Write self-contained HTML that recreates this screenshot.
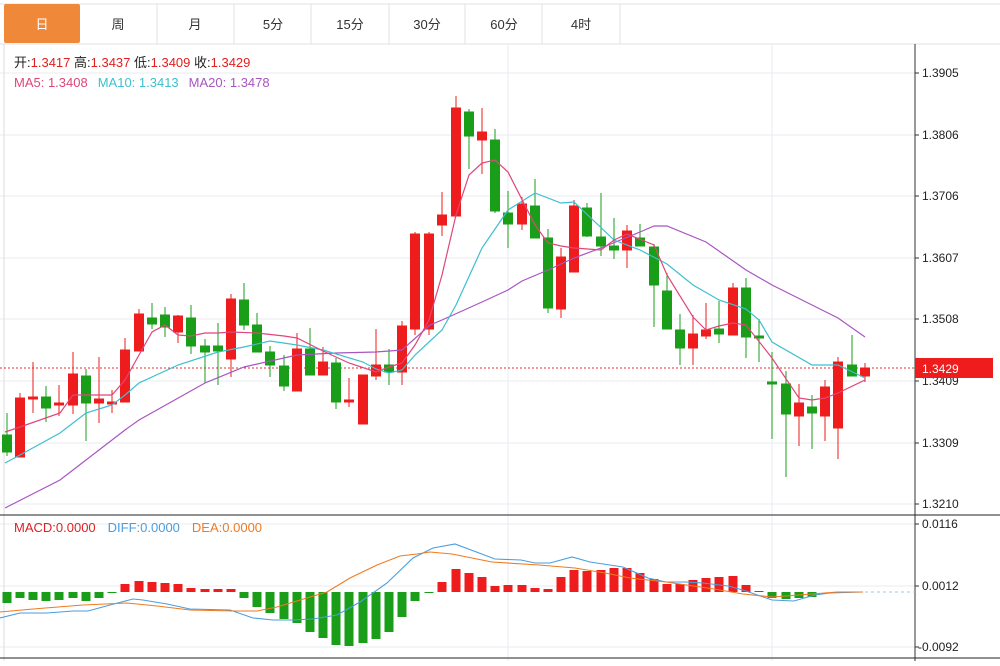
<!DOCTYPE html>
<html><head><meta charset="utf-8"><style>
body{margin:0;background:#fff;width:1000px;height:661px;overflow:hidden;font-family:"Liberation Sans","Noto Sans CJK SC",sans-serif}
</style></head><body>
<svg width="1000" height="661" xmlns="http://www.w3.org/2000/svg" font-family="Liberation Sans, Noto Sans CJK SC, sans-serif">
<rect x="0" y="0" width="1000" height="661" fill="#fff"/>
<line x1="0" y1="44" x2="1000" y2="44" stroke="#e2e2e2"/>
<line x1="0" y1="4" x2="1000" y2="4" stroke="#e2e2e2"/>
<rect x="4" y="4" width="76" height="39" fill="#f0883a" rx="2"/>
<g stroke="#e2e2e2"><line x1="157" y1="4" x2="157" y2="44"/><line x1="234" y1="4" x2="234" y2="44"/><line x1="311" y1="4" x2="311" y2="44"/><line x1="389" y1="4" x2="389" y2="44"/><line x1="465" y1="4" x2="465" y2="44"/><line x1="542" y1="4" x2="542" y2="44"/><line x1="620" y1="4" x2="620" y2="44"/></g>
<g font-size="13" fill="#333" text-anchor="middle"><text x="42" y="29" fill="#fff">日</text><text x="118" y="29">周</text><text x="195" y="29">月</text><text x="273" y="29">5分</text><text x="350" y="29">15分</text><text x="427" y="29">30分</text><text x="504" y="29">60分</text><text x="581" y="29">4时</text></g>
<g stroke="#e8ebf0"><line x1="0" y1="73" x2="915" y2="73"/><line x1="0" y1="135" x2="915" y2="135"/><line x1="0" y1="196" x2="915" y2="196"/><line x1="0" y1="258" x2="915" y2="258"/><line x1="0" y1="319" x2="915" y2="319"/><line x1="0" y1="381" x2="915" y2="381"/><line x1="0" y1="443" x2="915" y2="443"/><line x1="0" y1="504" x2="915" y2="504"/>
<line x1="508" y1="44" x2="508" y2="661"/><line x1="772" y1="44" x2="772" y2="661"/>
<line x1="0" y1="524" x2="915" y2="524"/><line x1="0" y1="586" x2="915" y2="586"/><line x1="0" y1="647" x2="915" y2="647"/></g>
<line x1="4" y1="44" x2="4" y2="661" stroke="#ddd"/>
<line x1="915" y1="44" x2="915" y2="661" stroke="#333"/>
<line x1="0" y1="515" x2="1000" y2="515" stroke="#222"/>
<line x1="0" y1="658" x2="1000" y2="658" stroke="#222"/>
<text x="14" y="67" font-size="13" fill="#222">开:<tspan fill="#e02020">1.3417</tspan>  高:<tspan fill="#e02020">1.3437</tspan>  低:<tspan fill="#e02020">1.3409</tspan>  收:<tspan fill="#e02020">1.3429</tspan></text>
<text x="14" y="87" font-size="13"><tspan fill="#e0457b">MA5: 1.3408</tspan><tspan fill="#3cbfcf" dx="10">MA10: 1.3413</tspan><tspan fill="#a855c0" dx="10">MA20: 1.3478</tspan></text>
<text x="14" y="532" font-size="13"><tspan fill="#e02020">MACD:0.0000</tspan><tspan fill="#4a9ee0" dx="12">DIFF:0.0000</tspan><tspan fill="#f07a20" dx="12">DEA:0.0000</tspan></text>
<g font-size="12" fill="#222"><text x="922" y="77">1.3905</text><text x="922" y="139">1.3806</text><text x="922" y="200">1.3706</text><text x="922" y="262">1.3607</text><text x="922" y="323">1.3508</text><text x="922" y="385">1.3409</text><text x="922" y="447">1.3309</text><text x="922" y="508">1.3210</text><text x="922" y="528">0.0116</text><text x="922" y="590">0.0012</text><text x="918" y="651">-0.0092</text></g>
<g stroke="#333"><line x1="915" y1="73" x2="919" y2="73"/><line x1="915" y1="135" x2="919" y2="135"/><line x1="915" y1="196" x2="919" y2="196"/><line x1="915" y1="258" x2="919" y2="258"/><line x1="915" y1="319" x2="919" y2="319"/><line x1="915" y1="381" x2="919" y2="381"/><line x1="915" y1="443" x2="919" y2="443"/><line x1="915" y1="504" x2="919" y2="504"/><line x1="915" y1="524" x2="919" y2="524"/><line x1="915" y1="586" x2="919" y2="586"/><line x1="915" y1="647" x2="919" y2="647"/></g>
<line x1="0" y1="368" x2="915" y2="368" stroke="#e03030" stroke-dasharray="2,2"/>
<rect x="915" y="358" width="78" height="20" fill="#ee1c1c"/>
<text x="922" y="373" font-size="12" fill="#fff">1.3429</text>
<g stroke-width="1">
<g stroke="#1a9e1a" fill="#1a9e1a">
<line x1="7" y1="413" x2="7" y2="456"/><rect x="2.5" y="435" width="9" height="17"/>
<line x1="46" y1="386" x2="46" y2="422"/><rect x="41.5" y="397" width="9" height="11"/>
<line x1="86" y1="369" x2="86" y2="441"/><rect x="81.5" y="376" width="9" height="27"/>
<line x1="152" y1="303" x2="152" y2="329"/><rect x="147.5" y="318" width="9" height="6"/>
<line x1="165" y1="307" x2="165" y2="337"/><rect x="160.5" y="315" width="9" height="12"/>
<line x1="191" y1="305" x2="191" y2="354"/><rect x="186.5" y="318" width="9" height="28"/>
<line x1="205" y1="339" x2="205" y2="383"/><rect x="200.5" y="346" width="9" height="6"/>
<line x1="218" y1="323" x2="218" y2="385"/><rect x="213.5" y="346" width="9" height="5"/>
<line x1="244" y1="283" x2="244" y2="330"/><rect x="239.5" y="300" width="9" height="25"/>
<line x1="257" y1="313" x2="257" y2="352"/><rect x="252.5" y="325" width="9" height="27"/>
<line x1="270" y1="346" x2="270" y2="377"/><rect x="265.5" y="352" width="9" height="13"/>
<line x1="284" y1="355" x2="284" y2="391"/><rect x="279.5" y="366" width="9" height="20"/>
<line x1="310" y1="328" x2="310" y2="375"/><rect x="305.5" y="349" width="9" height="26"/>
<line x1="336" y1="358" x2="336" y2="409"/><rect x="331.5" y="363" width="9" height="39"/>
<line x1="389" y1="349" x2="389" y2="385"/><rect x="384.5" y="365" width="9" height="7"/>
<line x1="469" y1="109" x2="469" y2="169"/><rect x="464.5" y="112" width="9" height="24"/>
<line x1="495" y1="129" x2="495" y2="213"/><rect x="490.5" y="140" width="9" height="71"/>
<line x1="508" y1="191" x2="508" y2="248"/><rect x="503.5" y="213" width="9" height="11"/>
<line x1="535" y1="179" x2="535" y2="238"/><rect x="530.5" y="206" width="9" height="32"/>
<line x1="548" y1="229" x2="548" y2="313"/><rect x="543.5" y="238" width="9" height="70"/>
<line x1="587" y1="203" x2="587" y2="237"/><rect x="582.5" y="208" width="9" height="28"/>
<line x1="601" y1="193" x2="601" y2="256"/><rect x="596.5" y="237" width="9" height="9"/>
<line x1="614" y1="218" x2="614" y2="259"/><rect x="609.5" y="246" width="9" height="4"/>
<line x1="640" y1="224" x2="640" y2="246"/><rect x="635.5" y="238" width="9" height="8"/>
<line x1="654" y1="244" x2="654" y2="327"/><rect x="649.5" y="247" width="9" height="38"/>
<line x1="667" y1="273" x2="667" y2="329"/><rect x="662.5" y="291" width="9" height="38"/>
<line x1="680" y1="314" x2="680" y2="365"/><rect x="675.5" y="330" width="9" height="18"/>
<line x1="719" y1="301" x2="719" y2="343"/><rect x="714.5" y="329" width="9" height="5"/>
<line x1="746" y1="278" x2="746" y2="358"/><rect x="741.5" y="288" width="9" height="49"/>
<line x1="759" y1="319" x2="759" y2="362"/><rect x="754.5" y="336" width="9" height="2"/>
<line x1="772" y1="352" x2="772" y2="439"/><rect x="767.5" y="382" width="9" height="2"/>
<line x1="786" y1="371" x2="786" y2="477"/><rect x="781.5" y="384" width="9" height="30"/>
<line x1="812" y1="395" x2="812" y2="449"/><rect x="807.5" y="407" width="9" height="6"/>
<line x1="852" y1="335" x2="852" y2="376"/><rect x="847.5" y="365" width="9" height="11"/>
</g>
<g stroke="#ee1c1c" fill="#ee1c1c">
<line x1="20" y1="393" x2="20" y2="457"/><rect x="15.5" y="398" width="9" height="59"/>
<line x1="33" y1="362" x2="33" y2="413"/><rect x="28.5" y="397" width="9" height="2"/>
<line x1="59" y1="385" x2="59" y2="416"/><rect x="54.5" y="403" width="9" height="2"/>
<line x1="73" y1="352" x2="73" y2="414"/><rect x="68.5" y="374" width="9" height="31"/>
<line x1="99" y1="357" x2="99" y2="423"/><rect x="94.5" y="399" width="9" height="4"/>
<line x1="112" y1="390" x2="112" y2="413"/><rect x="107.5" y="402" width="9" height="2"/>
<line x1="125" y1="338" x2="125" y2="402"/><rect x="120.5" y="350" width="9" height="52"/>
<line x1="139" y1="309" x2="139" y2="351"/><rect x="134.5" y="314" width="9" height="37"/>
<line x1="178" y1="315" x2="178" y2="343"/><rect x="173.5" y="316" width="9" height="16"/>
<line x1="231" y1="294" x2="231" y2="377"/><rect x="226.5" y="299" width="9" height="60"/>
<line x1="297" y1="333" x2="297" y2="391"/><rect x="292.5" y="349" width="9" height="42"/>
<line x1="323" y1="347" x2="323" y2="375"/><rect x="318.5" y="362" width="9" height="13"/>
<line x1="349" y1="378" x2="349" y2="407"/><rect x="344.5" y="400" width="9" height="2"/>
<line x1="363" y1="375" x2="363" y2="424"/><rect x="358.5" y="375" width="9" height="49"/>
<line x1="376" y1="329" x2="376" y2="380"/><rect x="371.5" y="365" width="9" height="11"/>
<line x1="402" y1="321" x2="402" y2="385"/><rect x="397.5" y="326" width="9" height="46"/>
<line x1="415" y1="232" x2="415" y2="335"/><rect x="410.5" y="234" width="9" height="95"/>
<line x1="429" y1="232" x2="429" y2="335"/><rect x="424.5" y="234" width="9" height="95"/>
<line x1="442" y1="192" x2="442" y2="236"/><rect x="437.5" y="215" width="9" height="10"/>
<line x1="456" y1="96" x2="456" y2="216"/><rect x="451.5" y="108" width="9" height="108"/>
<line x1="482" y1="108" x2="482" y2="174"/><rect x="477.5" y="132" width="9" height="8"/>
<line x1="522" y1="197" x2="522" y2="230"/><rect x="517.5" y="204" width="9" height="20"/>
<line x1="561" y1="248" x2="561" y2="318"/><rect x="556.5" y="257" width="9" height="52"/>
<line x1="574" y1="200" x2="574" y2="272"/><rect x="569.5" y="206" width="9" height="66"/>
<line x1="627" y1="225" x2="627" y2="268"/><rect x="622.5" y="231" width="9" height="19"/>
<line x1="693" y1="315" x2="693" y2="365"/><rect x="688.5" y="334" width="9" height="14"/>
<line x1="706" y1="303" x2="706" y2="339"/><rect x="701.5" y="330" width="9" height="6"/>
<line x1="733" y1="283" x2="733" y2="335"/><rect x="728.5" y="288" width="9" height="47"/>
<line x1="799" y1="384" x2="799" y2="446"/><rect x="794.5" y="403" width="9" height="13"/>
<line x1="825" y1="380" x2="825" y2="441"/><rect x="820.5" y="387" width="9" height="29"/>
<line x1="838" y1="357" x2="838" y2="459"/><rect x="833.5" y="362" width="9" height="66"/>
<line x1="865" y1="363" x2="865" y2="382"/><rect x="860.5" y="368" width="9" height="8"/>
</g></g>
<polyline fill="none" stroke="#a855c0" stroke-width="1.2" points="5,508 60,480 125,430 139,420 205,383 244,367 297,355 336,353 376,352 402,350 430,325 442,320 482,302 508,290 522,281 548,270 574,258 601,248 640,232 654,226 667,226 706,242 746,270 772,285 812,305 838,318 865,337"/>
<polyline fill="none" stroke="#3cbfcf" stroke-width="1.2" points="5,463 20,455 60,433 86,413 112,405 125,395 139,383 178,365 218,352 244,347 270,341 297,345 323,350 363,362 376,369 389,373 402,370 415,355 442,330 456,305 482,248 508,210 535,193 561,203 574,202 614,240 640,250 667,264 693,285 719,300 746,309 759,320 772,342 812,365 838,365 865,378"/>
<polyline fill="none" stroke="#e0457b" stroke-width="1.2" points="5,432 20,427 60,413 73,395 86,395 112,395 125,380 139,355 152,332 165,325 178,335 191,336 205,333 218,333 231,332 257,333 284,336 297,338 323,351 349,363 376,372 389,367 402,363 415,345 429,320 442,275 456,215 469,175 482,163 495,160 508,172 535,225 548,243 561,246 574,248 601,250 614,240 627,234 654,245 667,275 693,317 706,330 719,326 733,323 746,325 772,358 799,398 812,400 825,398 838,393 865,380"/>
<g fill="#1a9e1a">
<rect x="2.5" y="592" width="9" height="11"/><rect x="15.5" y="592" width="9" height="6"/><rect x="28.5" y="592" width="9" height="8"/><rect x="41.5" y="592" width="9" height="9"/><rect x="54.5" y="592" width="9" height="8"/><rect x="68.5" y="592" width="9" height="6"/><rect x="81.5" y="592" width="9" height="9"/><rect x="94.5" y="592" width="9" height="6"/><rect x="107.5" y="592" width="9" height="1"/>
<rect x="239.5" y="592" width="9" height="6"/><rect x="252.5" y="592" width="9" height="15"/><rect x="265.5" y="592" width="9" height="21"/><rect x="279.5" y="592" width="9" height="27"/><rect x="292.5" y="592" width="9" height="31"/><rect x="305.5" y="592" width="9" height="40"/><rect x="318.5" y="592" width="9" height="46"/><rect x="331.5" y="592" width="9" height="53"/><rect x="344.5" y="592" width="9" height="54"/><rect x="358.5" y="592" width="9" height="51"/><rect x="371.5" y="592" width="9" height="47"/><rect x="384.5" y="592" width="9" height="40"/><rect x="397.5" y="592" width="9" height="25"/><rect x="410.5" y="592" width="9" height="9"/><rect x="424.5" y="592" width="9" height="1"/>
<rect x="767.5" y="592" width="9" height="6"/><rect x="781.5" y="592" width="9" height="7"/><rect x="794.5" y="592" width="9" height="6"/><rect x="807.5" y="592" width="9" height="5"/>
</g>
<g fill="#ee1c1c">
<rect x="120.5" y="584" width="9" height="8"/><rect x="134.5" y="581" width="9" height="11"/><rect x="147.5" y="582" width="9" height="10"/><rect x="160.5" y="583" width="9" height="9"/><rect x="173.5" y="584" width="9" height="8"/><rect x="186.5" y="588" width="9" height="4"/><rect x="200.5" y="589" width="9" height="3"/><rect x="213.5" y="589" width="9" height="3"/><rect x="226.5" y="589" width="9" height="3"/>
<rect x="437.5" y="582" width="9" height="10"/><rect x="451.5" y="569" width="9" height="23"/><rect x="464.5" y="573" width="9" height="19"/><rect x="477.5" y="577" width="9" height="15"/><rect x="490.5" y="586" width="9" height="6"/><rect x="503.5" y="585" width="9" height="7"/><rect x="517.5" y="585" width="9" height="7"/><rect x="530.5" y="588" width="9" height="4"/><rect x="543.5" y="589" width="9" height="3"/><rect x="556.5" y="577" width="9" height="15"/><rect x="569.5" y="570" width="9" height="22"/><rect x="582.5" y="571" width="9" height="21"/><rect x="596.5" y="570" width="9" height="22"/><rect x="609.5" y="568" width="9" height="24"/><rect x="622.5" y="568" width="9" height="24"/><rect x="635.5" y="573" width="9" height="19"/><rect x="649.5" y="579" width="9" height="13"/><rect x="662.5" y="584" width="9" height="8"/><rect x="675.5" y="584" width="9" height="8"/><rect x="688.5" y="580" width="9" height="12"/><rect x="701.5" y="578" width="9" height="14"/><rect x="714.5" y="577" width="9" height="15"/><rect x="728.5" y="576" width="9" height="16"/><rect x="741.5" y="585" width="9" height="7"/><rect x="754.5" y="591" width="9" height="1"/>
</g>
<line x1="865" y1="592" x2="915" y2="592" stroke="#9cc8e8" stroke-dasharray="3,3"/>
<polyline fill="none" stroke="#4a9ee0" stroke-width="1.1" points="0,618 20,613 47,613 73,611 88,611 110,605 133,599 143,600 167,604 190,609 230,610 253,618 273,620 293,620 313,619 337,615 360,602 387,583 413,558 433,548 455,544 495,559 521,560 535,563 550,563 572,557 590,562 623,567 648,578 666,582 685,582 703,583 728,586 743,590 772,600 794,601 815,595 830,593 863,592"/>
<polyline fill="none" stroke="#f07a20" stroke-width="1.1" points="0,612 33,609 83,605 127,603 157,606 190,610 233,611 257,611 277,607 300,600 327,592 350,578 377,565 400,556 417,554 430,552 452,554 492,562 539,565 575,568 605,573 630,578 666,582 714,589 743,594 772,597 812,594 837,592 863,592"/>
</svg>
</body></html>
